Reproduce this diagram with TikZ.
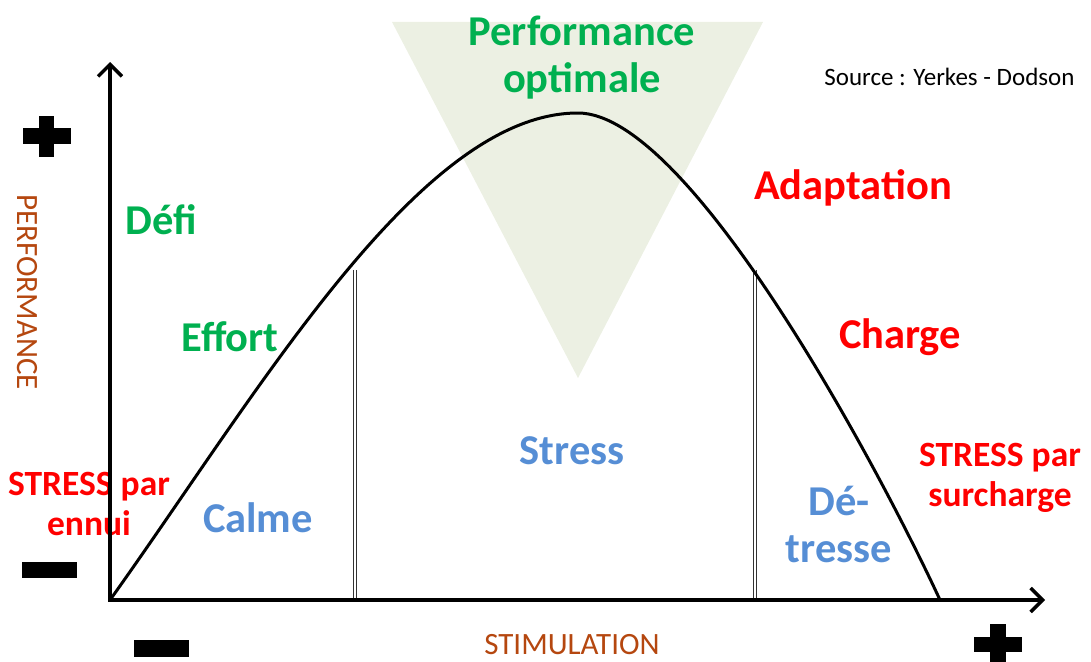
\documentclass[tikz,border=0pt]{standalone}
\usepackage{fontspec}
\setmainfont{Carlito}
\usetikzlibrary{arrows.meta}

\definecolor{vert}{RGB}{0,176,80}
\definecolor{rouge}{RGB}{255,0,0}
\definecolor{bleu}{RGB}{86,142,213}
\definecolor{brun}{RGB}{181,71,15}
\definecolor{pale}{RGB}{236,240,227}

\tikzset{
	grand/.style={font=\bfseries\fontsize{42.5}{47}\selectfont, align=center, inner sep=0pt},
	moyen/.style={font=\bfseries\fontsize{35.5}{40}\selectfont, align=center, inner sep=0pt},
	titre/.style={font=\fontsize{31}{36}\selectfont, text=brun, inner sep=0pt},
	axe/.style={line width=3.5pt, -{Straight Barb[length=12pt, width=24pt]}},
	seuil/.style={draw=black!80, double=white, line width=0.9pt, double distance=1.6pt},
}

\begin{document}
	\begin{tikzpicture}[x=1pt, y=-1pt]
		\useasboundingbox (0,0) rectangle (1091,661);
		\coordinate (o) at (110,600);
		\coordinate (yend) at (110,62);
		\coordinate (xend) at (1045,600);
		\coordinate (top) at (578,113);
		\coordinate (fin) at (940,600);
		\coordinate (s1) at (355,270);
		\coordinate (s1b) at (355,600);
		\coordinate (s2) at (755,270);
		\coordinate (s2b) at (755,600);
		\coordinate (t1) at (392,22);
		\coordinate (t2) at (763,22);
		\coordinate (t3) at (578,378);
		
		\fill [pale] (t1) -- (t2) -- (t3) -- cycle;
		
		\node [grand, text=vert] at (582,58) (optimale) {Performance\\optimale};
		\node [font=\fontsize{25}{30}\selectfont, anchor=east] at (1078,77) (source) {Source : Yerkes - Dodson};
		
		\node [titre, rotate=-90] at (27,292) (perf) {PERFORMANCE};
		\node [titre] at (572,645) (stim) {STIMULATION};
		
		\node [grand, text=vert] at (161,220) (defi) {Défi};
		\node [grand, text=vert] at (230,337) (effort) {Effort};
		\node [grand, text=bleu] at (258,518) (calme) {Calme};
		\node [grand, text=bleu] at (572,451) (stress) {Stress};
		\node [grand, text=bleu] at (839,524) (detresse) {Dé-\\tresse};
		\node [grand, text=rouge] at (853,188) (adapt) {Adaptation};
		\node [grand, text=rouge] at (900,337) (charge) {Charge};
		\node [moyen, text=rouge] at (89,504) (ennui) {STRESS par\\ennui};
		\node [moyen, text=rouge] at (1000,478) (surcharge) {STRESS par\\surcharge};
		
		\draw [seuil] (s1) -- (s1b);
		\draw [seuil] (s2) -- (s2b);
		
		\draw [line width=3pt] (o) .. controls (260,390) and (420,113) .. (top)
			.. controls (690,113) and (880,470) .. (fin);
		
		\draw [axe] (o) -- (yend);
		\draw [axe] ([xshift=-2pt]o) -- (xend);
		
		\fill (23,128) rectangle (71,144);
		\fill (39,116) rectangle (54,157);
		\fill (974,637) rectangle (1022,652);
		\fill (990,624) rectangle (1006,665);
		\fill (22,562) rectangle (77,578);
		\fill (134,640) rectangle (189,657);
	\end{tikzpicture}
\end{document}
